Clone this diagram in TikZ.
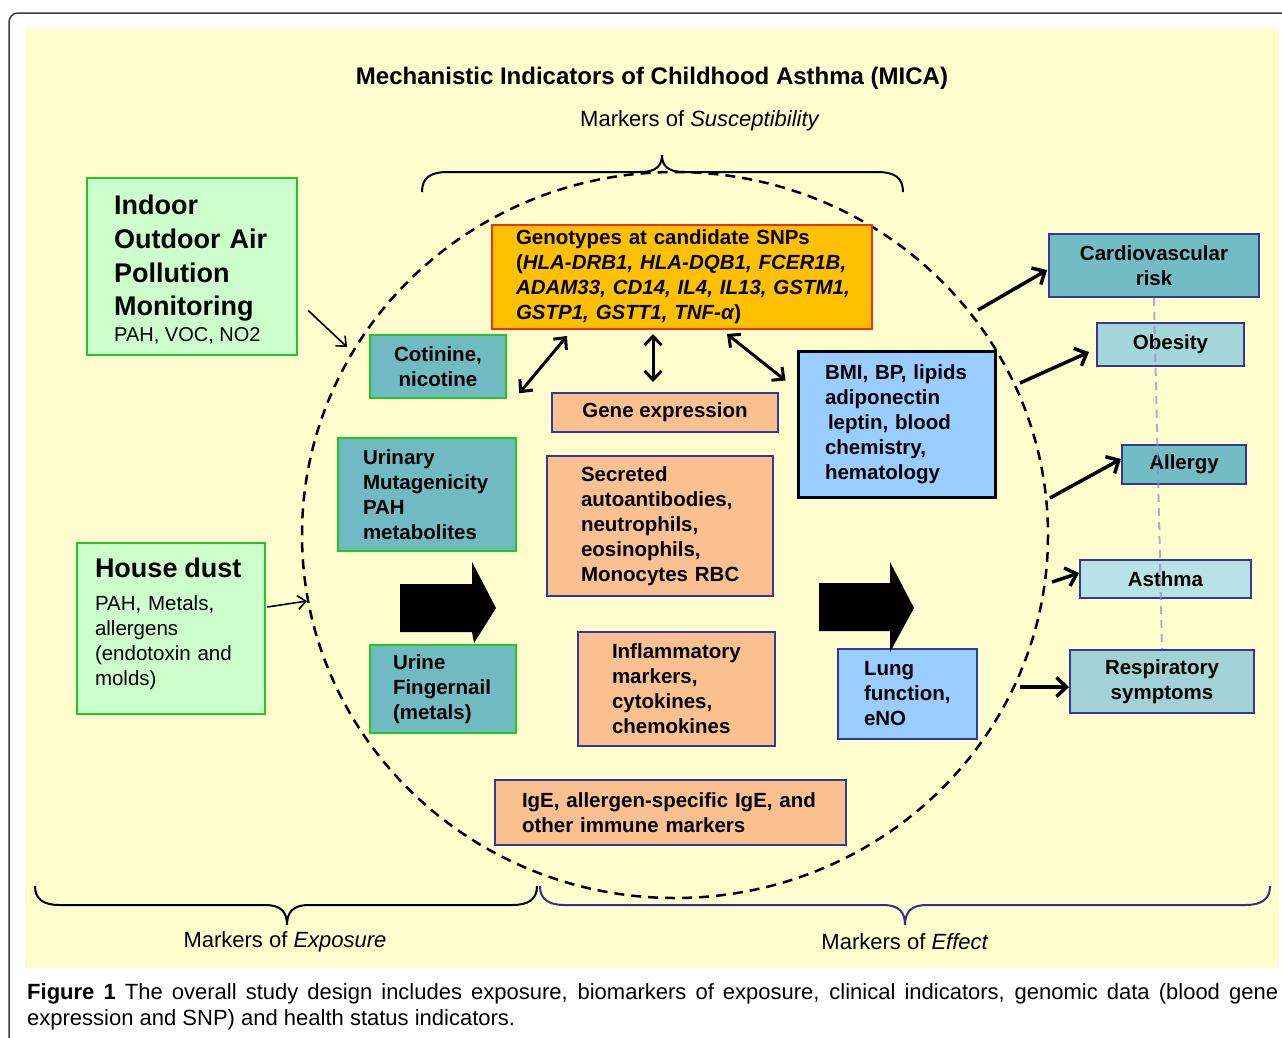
\documentclass[tikz,border=0pt]{standalone}
\usepackage{fontspec}
\setmainfont{Liberation Sans}
\usetikzlibrary{arrows.meta}
\definecolor{bgyellow}{RGB}{255,253,206}
\definecolor{greenfill}{RGB}{204,255,204}
\definecolor{greenline}{RGB}{34,200,34}
\definecolor{tealfill}{RGB}{112,186,194}
\definecolor{orangefill}{RGB}{255,192,0}
\definecolor{redline}{RGB}{240,50,20}
\definecolor{peach}{RGB}{250,192,144}
\definecolor{navyline}{RGB}{55,55,150}
\definecolor{skyfill}{RGB}{153,204,255}
\definecolor{tealA}{RGB}{114,188,196}
\definecolor{tealB}{RGB}{165,214,218}
\definecolor{tealC}{RGB}{184,226,230}
\definecolor{tealD}{RGB}{160,210,214}
\definecolor{guide}{RGB}{140,140,195}
\definecolor{framegray}{RGB}{60,60,60}
\definecolor{bracenavy}{RGB}{50,50,140}
\begin{document}
\begin{tikzpicture}[x=1pt,y=-1pt,
  every node/.style={font=\fontsize{20.5}{25}\selectfont\bfseries, inner sep=0pt, text=black},
  greenbox/.style={draw=greenline, fill=greenfill, line width=2.5pt},
  tealbox/.style={draw=greenline, fill=tealfill, line width=2.5pt},
  genobox/.style={draw=redline, fill=orangefill, line width=2pt},
  peachbox/.style={draw=navyline, fill=peach, line width=2pt},
  skybox/.style={draw=navyline, fill=skyfill, line width=2pt},
  outbox/.style={draw=navyline, line width=2pt},
  thinarrow/.style={line width=1.6pt, -{Straight Barb[length=8pt,width=14pt]}},
  dblarrow/.style={line width=3pt, {Straight Barb[length=9pt,width=17pt]}-{Straight Barb[length=9pt,width=17pt]}},
  outarrow/.style={line width=3.5pt, -{Straight Barb[length=10pt,width=19pt]}},
  bracepath/.style={line width=2pt},
  label/.style={font=\fontsize{22}{26}\selectfont},
]
\useasboundingbox (0,0) rectangle (1282,1037);
\clip (0,0) rectangle (1282,1037);
\fill[white] (0,0) rectangle (1282,1037);
\draw[framegray, line width=1.5pt, rounded corners=9] (9,13) rectangle (1300,1060);
\fill[bgyellow] (25,28) rectangle (1279,968);

% title and labels
\node[font=\fontsize{24}{28}\selectfont\bfseries] (title) at (652,78) {Mechanistic Indicators of Childhood Asthma (MICA)};
\node[label] (susc) at (700,121) {Markers of \textit{Susceptibility}};
\node[label] (expo) at (285,942) {Markers of \textit{Exposure}};
\node[label] (effect) at (905,942) {Markers of \textit{Effect}};

% braces
\draw[bracepath] (422,192) .. controls (422,178) and (430,172) .. (448,172) -- (640,172)
  .. controls (656,172) and (662,166) .. (662,155)
  .. controls (662,166) and (668,172) .. (684,172) -- (877,172)
  .. controls (895,172) and (903,178) .. (903,192);
\draw[bracepath] (35,886) .. controls (35,899) and (43,905) .. (60,905) -- (265,905)
  .. controls (281,905) and (287,912) .. (287,925)
  .. controls (287,912) and (293,905) .. (309,905) -- (512,905)
  .. controls (529,905) and (537,899) .. (537,886);
\draw[bracepath, bracenavy] (540,886) .. controls (540,899) and (548,905) .. (565,905) -- (883,905)
  .. controls (899,905) and (905,912) .. (905,925)
  .. controls (905,912) and (911,905) .. (927,905) -- (1245,905)
  .. controls (1262,905) and (1270,899) .. (1270,886);

% dashed circle
\draw[line width=2.5pt, dash pattern=on 10pt off 7pt] (675,535) ellipse [x radius=373, y radius=363];

% exposure boxes
\node[greenbox, minimum width=210, minimum height=177] (indoor) at (192,266.5) {};
\node[anchor=base west, text width=170, align=left, font=\fontsize{27}{33.7}\selectfont\bfseries] (indoortext) at (114,214.7)
  {Indoor\\Outdoor Air\\Pollution\\Monitoring};
\node[anchor=base west, font=\fontsize{20}{24}\selectfont] (indoorsub) at (114,341.2) {PAH, VOC, NO2};
\node[greenbox, minimum width=188, minimum height=171, text width=152, align=left] (dust) at (171,628.5)
  {{\fontsize{27}{25}\selectfont House dust}\\[7.5pt]\mdseries PAH, Metals,\\allergens\\(endotoxin and\\molds)\\[-11pt]\mbox{}};

\node[tealbox, minimum width=136, minimum height=63, align=center] (cotinine) at (438,366.5) {Cotinine,\\nicotine};
\node[tealbox, minimum width=178, minimum height=113, text width=128, align=left] (urinary) at (427,494.5)
  {Urinary\\\mbox{Mutagenicity}\\PAH\\metabolites};
\node[tealbox, minimum width=146, minimum height=88, text width=100, align=left] (urine) at (443,689)
  {Urine\\\mbox{Fingernail}\\(metals)};

% central boxes
\node[genobox, minimum width=380, minimum height=104, text width=332, align=left] (geno) at (682,277)
  {\mbox{Genotypes at candidate SNPs}\\\mbox{(\textit{HLA-DRB1, HLA-DQB1, FCER1B,}}\\\mbox{\textit{ADAM33, CD14, IL4, IL13, GSTM1,}}\\\mbox{\textit{GSTP1, GSTT1, TNF-α})}};
\node[peachbox, minimum width=226, minimum height=39] (geneexp) at (665,412.5) {Gene expression};
\node[peachbox, minimum width=226, minimum height=140, text width=158, align=left] (secreted) at (660,526)
  {Secreted\\\mbox{autoantibodies,}\\neutrophils,\\eosinophils,\\\mbox{Monocytes RBC}};
\node[peachbox, minimum width=197, minimum height=114, text width=129, align=left] (inflam) at (676.5,689)
  {\mbox{Inflammatory}\\markers,\\cytokines,\\chemokines};
\node[peachbox, minimum width=351, minimum height=65, text width=297, align=left] (ige) at (670.5,812.5)
  {\mbox{IgE, allergen-specific IgE, and}\\other immune markers};
\node[draw=black, fill=skyfill, line width=3pt, minimum width=197, minimum height=146, text width=143, align=left] (bmi) at (896.5,424)
  {\mbox{BMI, BP, lipids}\\adiponectin\\\hspace*{3pt}leptin, blood\\chemistry,\\hematology};
\node[skybox, minimum width=139, minimum height=90, text width=87, align=left] (lung) at (907.5,694)
  {Lung\\\mbox{function,}\\eNO};

% outcome boxes
\node[outbox, fill=tealA, minimum width=210, minimum height=63, align=center] (cardio) at (1154,265.5) {Cardiovascular\\risk};
\node[outbox, fill=tealB, minimum width=147, minimum height=43] (obesity) at (1170.5,344.5) {Obesity};
\node[outbox, fill=tealA, minimum width=124, minimum height=39] (allergy) at (1184,464.5) {Allergy};
\node[outbox, fill=tealC, minimum width=171, minimum height=38] (asthma) at (1165.5,579) {Asthma};
\node[outbox, fill=tealD, minimum width=184, minimum height=63, align=center] (resp) at (1162,681.5) {Respiratory\\symptoms};

\draw[guide, line width=2pt, dash pattern=on 8pt off 6pt, opacity=0.7] (cardio.south) -- (resp.north);

% free ends on the dashed circle
\coordinate (in1) at (347,347);
\coordinate (in2) at (307,601);
\coordinate (o1) at (978,310);
\coordinate (o2) at (1020,383);
\coordinate (o3) at (1050,498);
\coordinate (o4) at (1052,582);
\coordinate (o5) at (1020,687);

% arrows
\draw[thinarrow] ([shift={(10,44)}]indoor.east) -- (in1);
\draw[thinarrow] ([shift={(1,-21.5)}]dust.east) -- (in2);
\draw[dblarrow] ([shift={(76,6)}]geno.south west) -- ([shift={(12,-6)}]cotinine.south east);
\draw[dblarrow] ([shift={(-29,4)}]geno.south) -- ([shift={(-12,-10)}]geneexp.north);
\draw[dblarrow] ([shift={(236,4)}]geno.south west) -- ([shift={(-11,31)}]bmi.north west);
\draw[outarrow] (o1) -- ([shift={(-1,4.5)}]cardio.west);
\draw[outarrow] (o2) -- ([shift={(-7,7.5)}]obesity.west);
\draw[outarrow] (o3) -- ([shift={(0,-5.5)}]allergy.west);
\draw[outarrow] (o4) -- ([shift={(0,-6)}]asthma.west);
\draw[outarrow] (o5) -- ([shift={(0,5.5)}]resp.west);

% block arrows
\fill[black] (400,584) -- (472,584) -- (472,562) -- (496,608) -- (474,643) -- (472,632) -- (400,632) -- cycle;
\fill[black] (819,583) -- (890,583) -- (890,562) -- (914,608) -- (890,652) -- (890,631) -- (819,631) -- cycle;

% caption
\node[anchor=west, font=\fontsize{22}{26}\selectfont] (cap1) at (27,994)
  {\makebox[1251pt][s]{\textbf{Figure 1} The overall study design includes exposure, biomarkers of exposure, clinical indicators, genomic data (blood gene}};
\node[anchor=west, font=\fontsize{22}{26}\selectfont] (cap2) at (27,1020)
  {expression and SNP) and health status indicators.};
\end{tikzpicture}
\end{document}
